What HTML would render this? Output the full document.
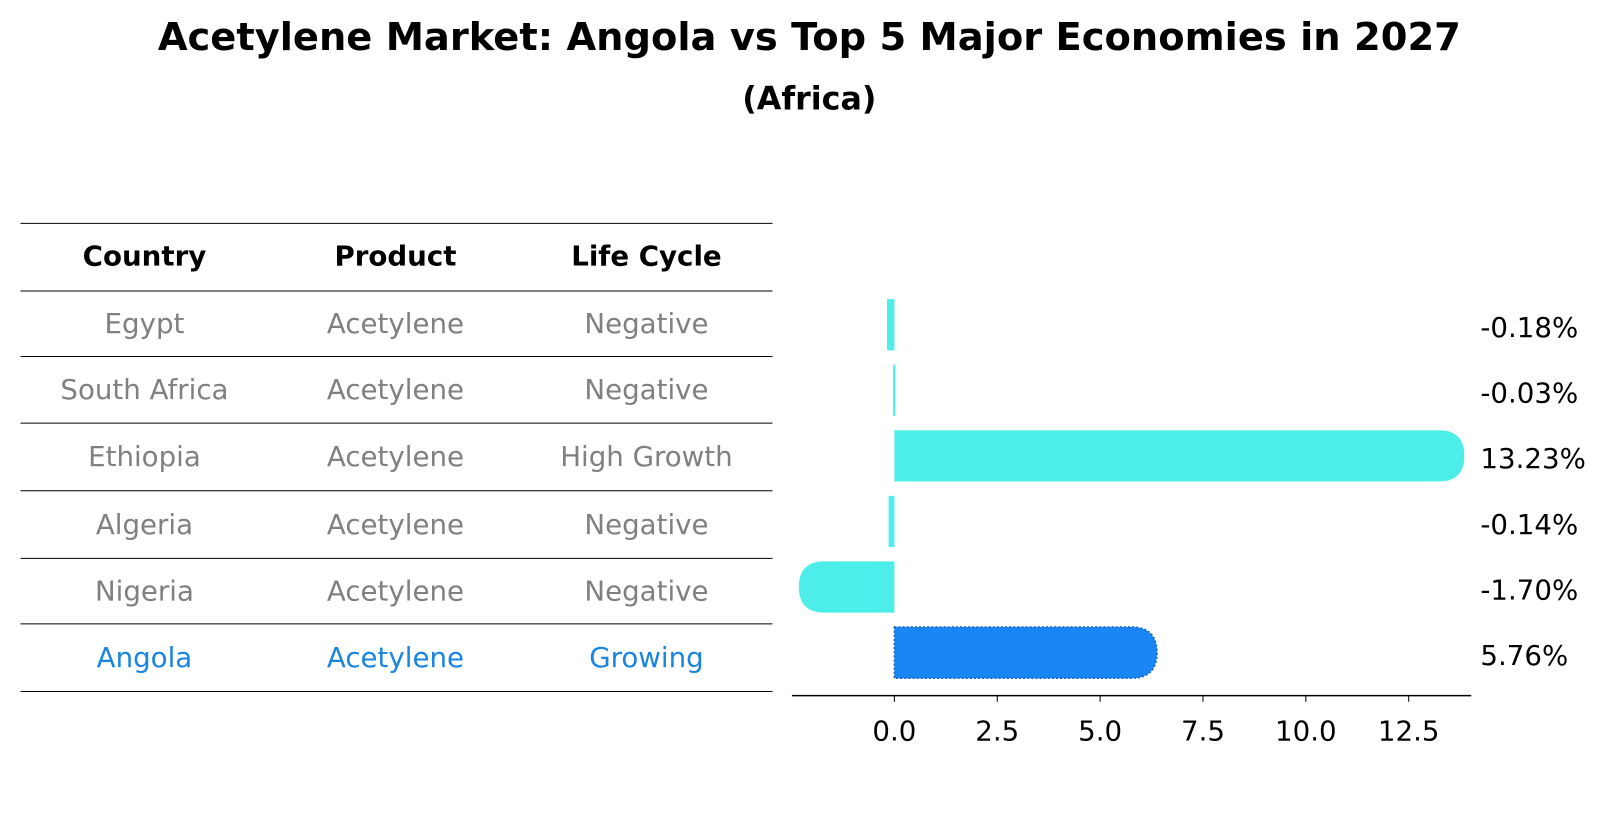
<!DOCTYPE html>
<html><head><meta charset="utf-8">
<style>
body{margin:0;background:#fff;font-family:"DejaVu Sans","Liberation Sans",sans-serif;}
#wrap{position:relative;width:1604px;height:823px;overflow:hidden;}
</style></head>
<body>
<div id="wrap">
<svg id="svg" width="1604" height="823" xmlns="http://www.w3.org/2000/svg" font-family="DejaVu Sans, Liberation Sans, sans-serif">
 <g transform="scale(1.0245)">
  <text x="790" y="49" text-anchor="middle" font-size="37.5" font-weight="bold">Acetylene Market: Angola vs Top 5 Major Economies in 2027</text>
  <text x="790" y="107" text-anchor="middle" font-size="31" font-weight="bold">(Africa)</text>
  <g id="table"></g>
  <g id="bars"></g>
 </g>
</svg>
</div>
<script>
const countries = ["Egypt","South Africa","Ethiopia","Algeria","Nigeria","Angola"];
const products = ["Acetylene","Acetylene","Acetylene","Acetylene","Acetylene","Acetylene"];
const lifeCycles = ["Negative","Negative","High Growth","Negative","Negative","Growing"];
const values = [-0.18,-0.03,13.23,-0.14,-1.70,5.76];
const valueLabels = ["-0.18%","-0.03%","13.23%","-0.14%","-1.70%","5.76%"];
const xTicks = [0,2.5,5,7.5,10,12.5];
const xTickLabels = ["0.0","2.5","5.0","7.5","10.0","12.5"];
const highlight = "Angola";

const NS="http://www.w3.org/2000/svg";
function mk(tag,attrs,parent){const e=document.createElementNS(NS,tag);for(const k in attrs)e.setAttribute(k,attrs[k]);parent.appendChild(e);return e;}
const table=document.getElementById('table');
const bars=document.getElementById('bars');

const FS=27;
const lineYs=[218,284,348,413,479,545,609,675];
const colX=[141,386,631];
lineYs.forEach((y,i)=>{
  const l=mk('line',{x1:20,x2:754,y1:y,y2:y,stroke:'#000','stroke-width':1},table);
  
  
});
["Country","Product","Life Cycle"].forEach((h,i)=>{
  const t=mk('text',{x:colX[i],y:259,'text-anchor':'middle','font-size':FS,'font-weight':'bold',fill:'#000'},table);
  t.textContent=h;
  
  
});
countries.forEach((c,i)=>{
  const y=(lineYs[i+1]+lineYs[i+2])/2+9;
  const col=c===highlight?'#1a85e0':'#808080';
  [c,products[i],lifeCycles[i]].forEach((v,j)=>{
    const t=mk('text',{x:colX[j],y:y,'text-anchor':'middle','font-size':FS,fill:col},table);
    t.textContent=v;
    
    
  });
});

const x0=873, pxPerUnit=(1375-873)/12.5;
function xs(v){return x0+v*pxPerUnit;}
const rowY0=317, rowStep=64, barH=50, axisY=679;
function ys(i){return rowY0+i*rowStep;}
const ax=mk('line',{x1:773,x2:1436,y1:axisY,y2:axisY,stroke:'#000','stroke-width':1.5},bars);


xTicks.forEach((v,i)=>{
  const tk=mk('line',{x1:xs(v),x2:xs(v),y1:axisY,y2:axisY+6,stroke:'#000','stroke-width':1},bars);
  
  
  const t=mk('text',{x:xs(v),y:axisY+44,'text-anchor':'middle','font-size':FS,fill:'#000'},bars);
  t.textContent=xTickLabels[i];
  
  
});
values.forEach((v,i)=>{
  const cy=ys(i), top=cy-barH/2, bot=cy+barH/2;
  const xv=xs(v);
  const isH=countries[i]===highlight;
  const fill=isH?'#1a85f5':'#4deeea';
  const r=barH/2;
  let d;
  if(Math.abs(v)>1){
    if(v>0){
      d=`M${x0},${top} L${xv},${top} Q${xv+r},${top} ${xv+r},${cy} Q${xv+r},${bot} ${xv},${bot} L${x0},${bot} Z`;
    } else {
      d=`M${x0},${top} L${xv},${top} Q${xv-r},${top} ${xv-r},${cy} Q${xv-r},${bot} ${xv},${bot} L${x0},${bot} Z`;
    }
  } else {
    const a=Math.min(xv,x0), b=Math.max(xv,x0)+(Math.abs(v)<0.05?1:0);
    d=`M${a},${top} L${b},${top} L${b},${bot} L${a},${bot} Z`;
  }
  const attrs={d:d,fill:fill};
  if(isH){attrs.stroke='#1565c0';attrs['stroke-width']=1.5;attrs['stroke-dasharray']='2,2';}
  const p=mk('path',attrs,bars);
  
  
  const t=mk('text',{x:1445,y:cy+12,'font-size':FS,fill:'#000'},bars);
  t.textContent=valueLabels[i];
  
  
});
</script>
</body></html>
